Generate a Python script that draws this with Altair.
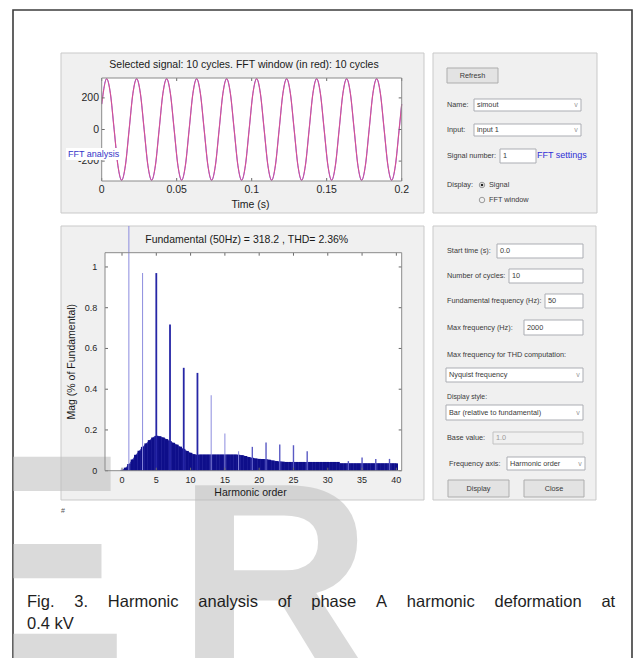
import altair as alt
import pandas as pd

# ------------------------------------------------------------------
# Values
# ------------------------------------------------------------------
# Selected signal (upper plot): time (s) / value at crests, troughs,
# zero crossings and the half-way points between them
sig_t = [0.0,
         0.0033, 0.0058, 0.0083, 0.0108, 0.0133, 0.0158, 0.0183, 0.0208,
         0.0233, 0.0258, 0.0283, 0.0308, 0.0333, 0.0358, 0.0383, 0.0408,
         0.0433, 0.0458, 0.0483, 0.0508, 0.0533, 0.0558, 0.0583, 0.0608,
         0.0633, 0.0658, 0.0683, 0.0708, 0.0733, 0.0758, 0.0783, 0.0808,
         0.0833, 0.0858, 0.0883, 0.0908, 0.0933, 0.0958, 0.0983, 0.1008,
         0.1033, 0.1058, 0.1083, 0.1108, 0.1133, 0.1158, 0.1183, 0.1208,
         0.1233, 0.1258, 0.1283, 0.1308, 0.1333, 0.1358, 0.1383, 0.1408,
         0.1433, 0.1458, 0.1483, 0.1508, 0.1533, 0.1558, 0.1583, 0.1608,
         0.1633, 0.1658, 0.1683, 0.1708, 0.1733, 0.1758, 0.1783, 0.1808,
         0.1833, 0.1858, 0.1883, 0.1908, 0.1933, 0.1958, 0.1983,
         0.2]
sig_v = [161,
         322, 228, 0, -228, -322, -228, 0, 228,
         322, 228, 0, -228, -322, -228, 0, 228,
         322, 228, 0, -228, -322, -228, 0, 228,
         322, 228, 0, -228, -322, -228, 0, 228,
         322, 228, 0, -228, -322, -228, 0, 228,
         322, 228, 0, -228, -322, -228, 0, 228,
         322, 228, 0, -228, -322, -228, 0, 228,
         322, 228, 0, -228, -322, -228, 0, 228,
         322, 228, 0, -228, -322, -228, 0, 228,
         322, 228, 0, -228, -322, -228, 0,
         161]

# Spectrum: floor of the bar plot (every half harmonic order), % of fundamental
floor_h = [0, 0.5, 1, 1.5, 2, 2.5, 3, 3.5, 4, 4.5,
           5, 5.5, 6, 6.5, 7, 7.5, 8, 8.5, 9, 9.5,
           10, 10.5, 11, 11.5, 12, 12.5, 13, 13.5, 14, 14.5,
           15, 15.5, 16, 16.5, 17, 17.5, 18, 18.5, 19, 19.5,
           20, 20.5, 21, 21.5, 22, 22.5, 23, 23.5, 24, 24.5,
           25, 25.5, 26, 26.5, 27, 27.5, 28, 28.5, 29, 29.5,
           30, 30.5, 31, 31.5, 32, 32.5, 33, 33.5, 34, 34.5,
           35, 35.5, 36, 36.5, 37, 37.5, 38, 38.5, 39, 39.5,
           40]
floor_mag = [0.004, 0.015, 0.033, 0.055, 0.078, 0.098, 0.117, 0.134, 0.150, 0.163,
             0.171, 0.169, 0.163, 0.155, 0.146, 0.137, 0.128, 0.118, 0.107, 0.097,
             0.088, 0.081, 0.078, 0.079, 0.079, 0.079, 0.079, 0.079, 0.079, 0.079,
             0.079, 0.079, 0.079, 0.079, 0.078, 0.076, 0.072, 0.067, 0.063, 0.060,
             0.058, 0.057, 0.056, 0.054, 0.050, 0.047, 0.045, 0.044, 0.043, 0.043,
             0.043, 0.043, 0.043, 0.043, 0.043, 0.043, 0.043, 0.043, 0.043, 0.043,
             0.043, 0.043, 0.043, 0.043, 0.036, 0.036, 0.036, 0.036, 0.036, 0.036,
             0.036, 0.036, 0.036, 0.036, 0.036, 0.036, 0.036, 0.036, 0.036, 0.036,
             0.036]

# Spectrum: harmonic lines
peak_h = [1, 3, 5, 7, 9, 11, 13, 15, 17, 19, 21, 23, 25, 27, 33, 35, 37, 39]
peak_mag = [100, 0.97, 0.97, 0.718, 0.505, 0.48, 0.37, 0.183, 0.095, 0.117,
            0.139, 0.128, 0.125, 0.095, 0.047, 0.065, 0.058, 0.058]

sig_x_ticks = [0, 0.05, 0.1, 0.15, 0.2]
sig_y_ticks = [-200, 0, 200]
spec_x_ticks = [0, 5, 10, 15, 20, 25, 30, 35, 40]
spec_y_ticks = [0, 0.2, 0.4, 0.6, 0.8, 1]

signal_title = "Selected signal: 10 cycles. FFT window (in red): 10 cycles"
spectrum_title = "Fundamental (50Hz) = 318.2 , THD= 2.36%"
caption_words = ["Fig.", "3.", "Harmonic", "analysis", "of", "phase", "A",
                 "harmonic", "deformation", "at"]
caption_line2 = "0.4 kV"

# ------------------------------------------------------------------
# Layout (page pixels) and styles
# ------------------------------------------------------------------
FONT = "Liberation Sans"
OX, OY = 13, 10          # top-left corner of the framed figure
W, H = 619, 650


def rx(x):
    return x - OX


def ry(y):
    return y - OY


SIG = dict(l=101.7, t=78, r=401.7, b=181)
SPEC = dict(l=105, t=252.7, r=401.7, b=470.7)
SPEC_PANEL_TOP = 226
SPEC_YBOX = 1.07
SPEC_YTOP = SPEC_YBOX * (SPEC["b"] - SPEC_PANEL_TOP) / (SPEC["b"] - SPEC["t"])
TICK = "#6a6a6a"
LBL = "#3a3a3a"
AX = "#262626"

sx = alt.Scale(domain=[0, 0.2], range=[rx(SIG["l"]), rx(SIG["r"])], nice=False, zero=False)
sy = alt.Scale(domain=[-326, 326], range=[ry(SIG["b"]), ry(SIG["t"])], nice=False, zero=False)
fx = alt.Scale(domain=[-1.75, 40.05], range=[rx(SPEC["l"]), rx(SPEC["r"])], nice=False, zero=False)
fy = alt.Scale(domain=[0, SPEC_YTOP], range=[ry(SPEC["b"]), ry(SPEC_PANEL_TOP)],
               nice=False, zero=False, clamp=True)


# ---------------- UI rectangles (panels, fields, buttons) ----------------
def rect_rows(items, fill, stroke):
    return [dict(x=rx(a), y=ry(b), x2=rx(c), y2=ry(d), fill=fill, stroke=stroke)
            for a, b, c, d in items]


panels = [(61, 53, 424, 213), (61, 226, 424, 500), (433, 53, 597, 213), (433, 226, 596, 500)]
plot_bgs = [(SIG["l"], SIG["t"], SIG["r"], SIG["b"]), (SPEC["l"], SPEC["t"], SPEC["r"], SPEC["b"])]
fields = [(474, 99, 581, 111), (474, 124, 581, 136), (500, 149, 536, 163),
          (497, 244, 583, 258), (509, 269, 583, 283), (545, 294, 583, 308),
          (524, 320, 583, 335), (446, 368, 583, 382), (446, 405, 583, 420),
          (507, 457, 585, 470)]
disabled = [(493, 432, 583, 444)]
buttons = [(447, 68, 498, 83), (448, 480, 509, 497), (524, 480, 584, 497)]

ui_bg_df = pd.DataFrame(
    rect_rows(panels, "#f0f0f0", "#c9c9c9")
    + rect_rows(plot_bgs, "#ffffff", "transparent")
    + rect_rows(fields, "#ffffff", "#abadb3")
    + rect_rows(disabled, "#f0f0f0", "#c2c2c2")
    + rect_rows(buttons, "#e3e3e3", "#adadad")
)
ui_fg_df = pd.DataFrame(
    rect_rows(plot_bgs, "transparent", "#8a8a8a")
    + rect_rows([(66, 148, 122, 160)], "#ffffff", "transparent")
)


def rects(df):
    return alt.Chart(df).mark_rect(strokeWidth=1).encode(
        x=alt.X("x:Q", scale=None, axis=None), x2="x2:Q",
        y=alt.Y("y:Q", scale=None, axis=None), y2="y2:Q",
        fill=alt.Fill("fill:N", scale=None),
        stroke=alt.Stroke("stroke:N", scale=None),
    )


# ---------------- texts ----------------
def text_rows(items):
    return pd.DataFrame([dict(text=t, x=rx(a), y=ry(b), size=s, color=c)
                         for t, a, b, s, c in items])


left_texts = text_rows([
    ("FFT analysis", 68, 154, 9, "#3535c8"),
    ("Name:", 447, 105, 7.3, LBL), ("simout", 477, 105, 7.3, LBL),
    ("Input:", 447, 130, 7.3, LBL), ("input 1", 477, 130, 7.3, LBL),
    ("Signal number:", 447, 156, 7.3, LBL), ("1", 503, 156, 7.3, LBL),
    ("FFT settings", 537, 154.5, 9, "#2f2fd6"),
    ("Display:", 447, 185, 7.3, LBL), ("Signal", 489, 185, 7.3, LBL),
    ("FFT window", 489, 200, 7.3, LBL),
    ("Start time (s):", 447, 251, 7.3, LBL), ("0.0", 500, 251, 7.3, LBL),
    ("Number of cycles:", 447, 276, 7.3, LBL), ("10", 512, 276, 7.3, LBL),
    ("Fundamental frequency (Hz):", 447, 301, 7.3, LBL), ("50", 548, 301, 7.3, LBL),
    ("Max frequency (Hz):", 447, 327.5, 7.3, LBL), ("2000", 527, 327.5, 7.3, LBL),
    ("Max frequency for THD computation:", 447, 355, 7.3, LBL),
    ("Nyquist frequency", 449, 375, 7.3, LBL),
    ("Display style:", 447, 396.5, 6.8, LBL),
    ("Bar (relative to fundamental)", 449, 412.5, 7.3, LBL),
    ("Base value:", 447, 438, 7.3, LBL), ("1.0", 496, 438, 7.3, "#9a9a9a"),
    ("Frequency axis:", 449, 463.5, 7.3, LBL), ("Harmonic order", 510, 463.5, 7.3, LBL),
    ("#", 61, 511, 7, "#555555"),
])
center_texts = text_rows([
    (signal_title, 244, 65, 10.5, "#1a1a1a"),
    (spectrum_title, 246.7, 240, 10.5, "#1a1a1a"),
    ("Time (s)", 250.5, 205, 10.5, "#1a1a1a"),
    ("Harmonic order", 250.5, 493, 10.5, "#1a1a1a"),
    ("Refresh", 472.5, 75.5, 7.3, LBL),
    ("Display", 478.5, 488.5, 7.3, LBL),
    ("Close", 554, 488.5, 7.3, LBL),
    ("v", 576, 105, 7, "#999999"), ("v", 576, 130, 7, "#999999"),
    ("v", 578, 375, 7, "#999999"), ("v", 578, 412.5, 7, "#999999"),
    ("v", 580, 463.5, 7, "#999999"),
])
rot_texts = text_rows([("Mag (% of Fundamental)", 72, 361.7, 10.5, "#1a1a1a")])
caption_df = text_rows([
    ("\u2003\u2009".join(caption_words), 27, 606.5, 16.5, "#1e1e1e"),
    (caption_line2, 27, 628.5, 16.5, "#1e1e1e"),
])
wm_E = text_rows([("E", -76, 668, 307, "#bdbdbd")])
wm_R = text_rows([("R", 177, 671, 270, "#bdbdbd")])


def texts(df, **mk):
    return alt.Chart(df).mark_text(font=FONT, **mk).encode(
        x=alt.X("x:Q", scale=None, axis=None),
        y=alt.Y("y:Q", scale=None, axis=None),
        text="text:N",
        size=alt.Size("size:Q", scale=None),
        color=alt.Color("color:N", scale=None),
    )


radio_df = pd.DataFrame({"x": [rx(482), rx(482)], "y": [ry(185), ry(200)]})
radios = alt.layer(
    alt.Chart(radio_df).mark_point(shape="circle", filled=False, size=30,
                                   color="#5a5a5a", strokeWidth=0.8).encode(
        x=alt.X("x:Q", scale=None, axis=None), y=alt.Y("y:Q", scale=None, axis=None)),
    alt.Chart(radio_df.head(1)).mark_circle(size=7, color="#222222", opacity=1).encode(
        x=alt.X("x:Q", scale=None, axis=None), y=alt.Y("y:Q", scale=None, axis=None)),
)


# ---------------- tick marks and tick labels (through the scales) ----------------
def tick_df(vals):
    return pd.DataFrame({"v": vals, "lbl": [str(v) for v in vals]})


def yticks(vals, scale, x0, x1):
    return alt.Chart(tick_df(vals)).mark_rule(color=TICK, strokeWidth=1).encode(
        y=alt.Y("v:Q", scale=scale, axis=None), x=alt.value(x0), x2=alt.value(x1))


def xticks(vals, scale, y0, y1):
    return alt.Chart(tick_df(vals)).mark_rule(color=TICK, strokeWidth=1).encode(
        x=alt.X("v:Q", scale=scale, axis=None), y=alt.value(y0), y2=alt.value(y1))


def xlabels(vals, scale, ypix, size):
    return alt.Chart(tick_df(vals)).mark_text(font=FONT, fontSize=size, color=AX,
                                              align="center", baseline="middle").encode(
        x=alt.X("v:Q", scale=scale, axis=None), y=alt.value(ypix), text="lbl:N")


def ylabels(vals, scale, xpix, size):
    return alt.Chart(tick_df(vals)).mark_text(font=FONT, fontSize=size, color=AX,
                                              align="right", baseline="middle").encode(
        y=alt.Y("v:Q", scale=scale, axis=None), x=alt.value(xpix), text="lbl:N")


# ---------------- signal plot ----------------
sig_df = pd.DataFrame({"t": sig_t, "v": sig_v})
sig_base = alt.Chart(sig_df).encode(
    x=alt.X("t:Q", scale=sx, axis=None),
    y=alt.Y("v:Q", scale=sy, axis=None),
)

signal = alt.layer(
    sig_base.mark_line(color="#4a4aff", strokeWidth=0.9, interpolate="monotone"),
    sig_base.mark_line(color="#ee4a78", strokeWidth=1.2, opacity=0.8, interpolate="monotone"),
    yticks(sig_y_ticks, sy, rx(SIG["l"]), rx(SIG["l"]) + 3),
    yticks(sig_y_ticks, sy, rx(SIG["r"]) - 3, rx(SIG["r"])),
    xticks(sig_x_ticks, sx, ry(SIG["b"]), ry(SIG["b"]) - 3),
    xticks(sig_x_ticks, sx, ry(SIG["t"]), ry(SIG["t"]) + 3),
    xlabels(sig_x_ticks, sx, ry(190), 10.5),
    ylabels(sig_y_ticks, sy, rx(99), 10.5),
)

# ---------------- spectrum plot ----------------
floor_df = pd.DataFrame({"h": floor_h, "mag": floor_mag})
peak_df = pd.DataFrame({"h": peak_h, "mag": peak_mag})

floor_fill = alt.Chart(floor_df).mark_area(color="#4646b4", interpolate="monotone").encode(
    x=alt.X("h:Q", scale=fx, axis=None),
    y=alt.Y("mag:Q", scale=fy, stack=None, axis=None),
    y2=alt.datum(0),
)
floor_bars = alt.Chart(floor_df).mark_bar(color="#0e0e8a").encode(
    x=alt.X("h:Q", scale=fx, axis=None),
    y=alt.Y("mag:Q", scale=fy, stack=None, axis=None),
    y2=alt.datum(0),
    size=alt.value(3.3),
)
peak_bars = alt.Chart(peak_df).mark_bar().transform_calculate(
    col="indexof([5,7,9,11], datum.h) >= 0 ? '#2626a6' : "
        "(indexof([1,3,13,15,17], datum.h) >= 0 ? '#8c8cde' : '#5a5ac4')",
    w="indexof([5,7,9,11], datum.h) >= 0 ? 1.8 : "
      "(indexof([1,3,13,15,17], datum.h) >= 0 ? 1.0 : 1.4)",
).encode(
    x=alt.X("h:Q", scale=fx, axis=None),
    y=alt.Y("mag:Q", scale=fy, stack=None, axis=None),
    y2=alt.datum(0),
    color=alt.Color("col:N", scale=None),
    size=alt.Size("w:Q", scale=None),
)
spectrum = alt.layer(
    floor_fill, floor_bars, peak_bars,
    yticks(spec_y_ticks, fy, rx(SPEC["l"]), rx(SPEC["l"]) + 3),
    yticks(spec_y_ticks, fy, rx(SPEC["r"]) - 3, rx(SPEC["r"])),
    xticks(spec_x_ticks, fx, ry(SPEC["b"]), ry(SPEC["b"]) - 3),
    xticks(spec_x_ticks, fx, ry(SPEC["t"]), ry(SPEC["t"]) + 3),
    xlabels(spec_x_ticks, fx, ry(480), 9),
    ylabels(spec_y_ticks, fy, rx(97.3), 9),
)

# ---------------- assemble ----------------
wm_style = dict(align="left", baseline="alphabetic", fontWeight="bold", opacity=0.55, clip=True)

chart = alt.layer(
    rects(ui_bg_df),
    texts(wm_E, **wm_style),
    texts(wm_R, **wm_style),
    signal,
    spectrum,
    rects(ui_fg_df),
    texts(left_texts, align="left", baseline="middle"),
    texts(center_texts, align="center", baseline="middle"),
    texts(rot_texts, align="center", baseline="middle", angle=270),
    texts(caption_df, align="left", baseline="alphabetic"),
    radios,
).resolve_scale(
    x="independent", y="independent"
).properties(
    width=W, height=H,
    autosize=alt.AutoSizeParams(type="none"),
    padding={"left": OX, "top": OY, "right": 1, "bottom": 0},
).configure_view(stroke="#3c3c3c", strokeWidth=1.6)

chart.save("out.html", embed_options={"renderer": "svg", "actions": False})
